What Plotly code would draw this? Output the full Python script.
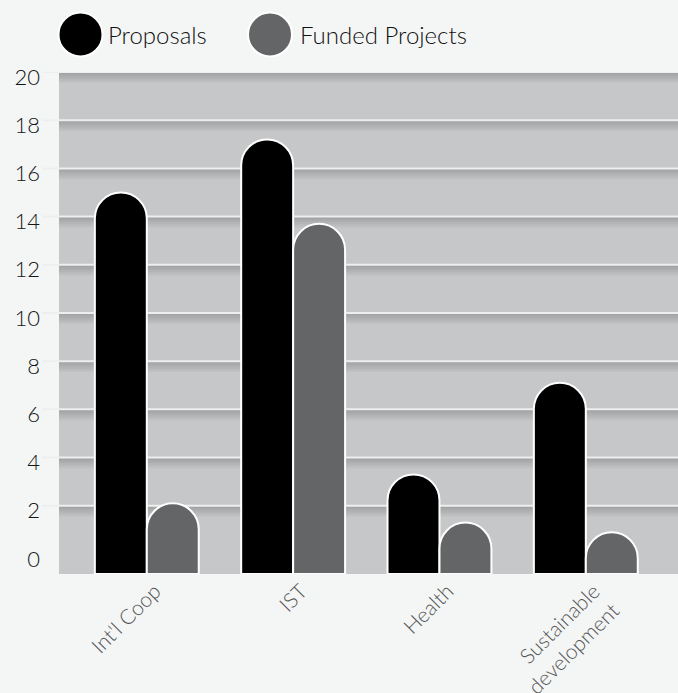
import plotly.graph_objects as go

# ---- data ----
categories = ["Int'l Coop", "IST", "Health", "Sustainable<br>development"]
proposals = [15.0, 17.2, 3.3, 7.1]
funded = [2.1, 13.7, 1.3, 0.9]
y_ticks = [0, 2, 4, 6, 8, 10, 12, 14, 16, 18, 20]
series_names = ["Proposals", "Funded Projects"]

# ---- layout constants ----
W, H = 678, 693
ML, MR, MT, MB = 59, 0, 72, 119
FLOOR = 0.833          # bars start this far below the "0" level
Y_TOP = 20
X_RANGE = [-0.6, 3.63]
C_PROP = "#000000"
C_FUND = "#646567"
BG = "#f4f6f5"
PLOT_BG = "#c6c7c9"
FONT = "Lato"

fig = go.Figure()
for name, vals, col in [(series_names[0], proposals, C_PROP), (series_names[1], funded, C_FUND)]:
    fig.add_trace(go.Bar(
        name=name, x=categories, y=[v + FLOOR for v in vals],
        customdata=vals, hovertemplate="%{x}: %{customdata}<extra>" + name + "</extra>",
        marker=dict(color=col, line=dict(color="white", width=2), cornerradius="50%"),
    ))

plot_w = W - ML - MR
plot_h = H - MT - MB

shapes = []
# shadow bands under gridlines
for v in y_ticks[1:]:
    for k in range(1, 7):
        shapes.append(dict(type="rect", xref="paper", yref="y", layer="below",
                           x0=0, x1=1, y0=v + FLOOR - k * 0.075, y1=v + FLOOR,
                           fillcolor="rgba(0,0,0,0.03)", line=dict(width=0)))
# gridlines (white), extending left as ticks
for v in y_ticks[1:]:
    shapes.append(dict(type="line", xref="paper", yref="y", layer="below",
                       x0=-17 / plot_w, x1=1, y0=v + FLOOR, y1=v + FLOOR,
                       line=dict(color="#eeeeee", width=2)))

# custom legend
leg_y = 1 + (MT - 34.5) / plot_h
legend_items = [(80.5, 106, C_PROP, series_names[0]), (270, 298, C_FUND, series_names[1])]
annotations = []
for cx, tx, col, name in legend_items:
    shapes.append(dict(type="circle", xref="paper", yref="paper",
                       xsizemode="pixel", ysizemode="pixel",
                       xanchor=(cx - ML) / plot_w, yanchor=leg_y,
                       x0=-22, x1=22, y0=-22, y1=22,
                       fillcolor=col, line=dict(color="white", width=2)))
    annotations.append(dict(xref="paper", yref="paper", x=(tx - ML) / plot_w, y=leg_y,
                            xanchor="left", yanchor="middle", showarrow=False,
                            text=name, font=dict(family=FONT, size=24, weight=300, color="#111111")))

fig.update_layout(
    width=W, height=H, margin=dict(l=ML, r=MR, t=MT, b=MB, autoexpand=False),
    paper_bgcolor=BG, plot_bgcolor=PLOT_BG,
    barmode="group", bargap=0.29, bargroupgap=0.0,
    showlegend=False, shapes=shapes, annotations=annotations,
    font=dict(family=FONT),
)
fig.update_yaxes(range=[0, Y_TOP + FLOOR], tickvals=[t + FLOOR for t in y_ticks],
                 ticktext=[str(t) for t in y_ticks], showgrid=False, zeroline=False,
                 showline=False, ticks="", ticklabelstandoff=18, ticklabelshift=5,
                 automargin=False,
                 tickfont=dict(family=FONT, size=22, weight=300, color="#151515"))
fig.update_xaxes(range=X_RANGE, showgrid=False, showline=False, ticks="", tickangle=-45,
                 automargin=False, ticklabelshift=8,
                 tickfont=dict(family=FONT, size=21, weight=300, color="#555555"))

fig.write_html("out.html", config={"displayModeBar": False},
               post_script="document.body.style.margin='0';document.body.style.background='" + BG + "';")
